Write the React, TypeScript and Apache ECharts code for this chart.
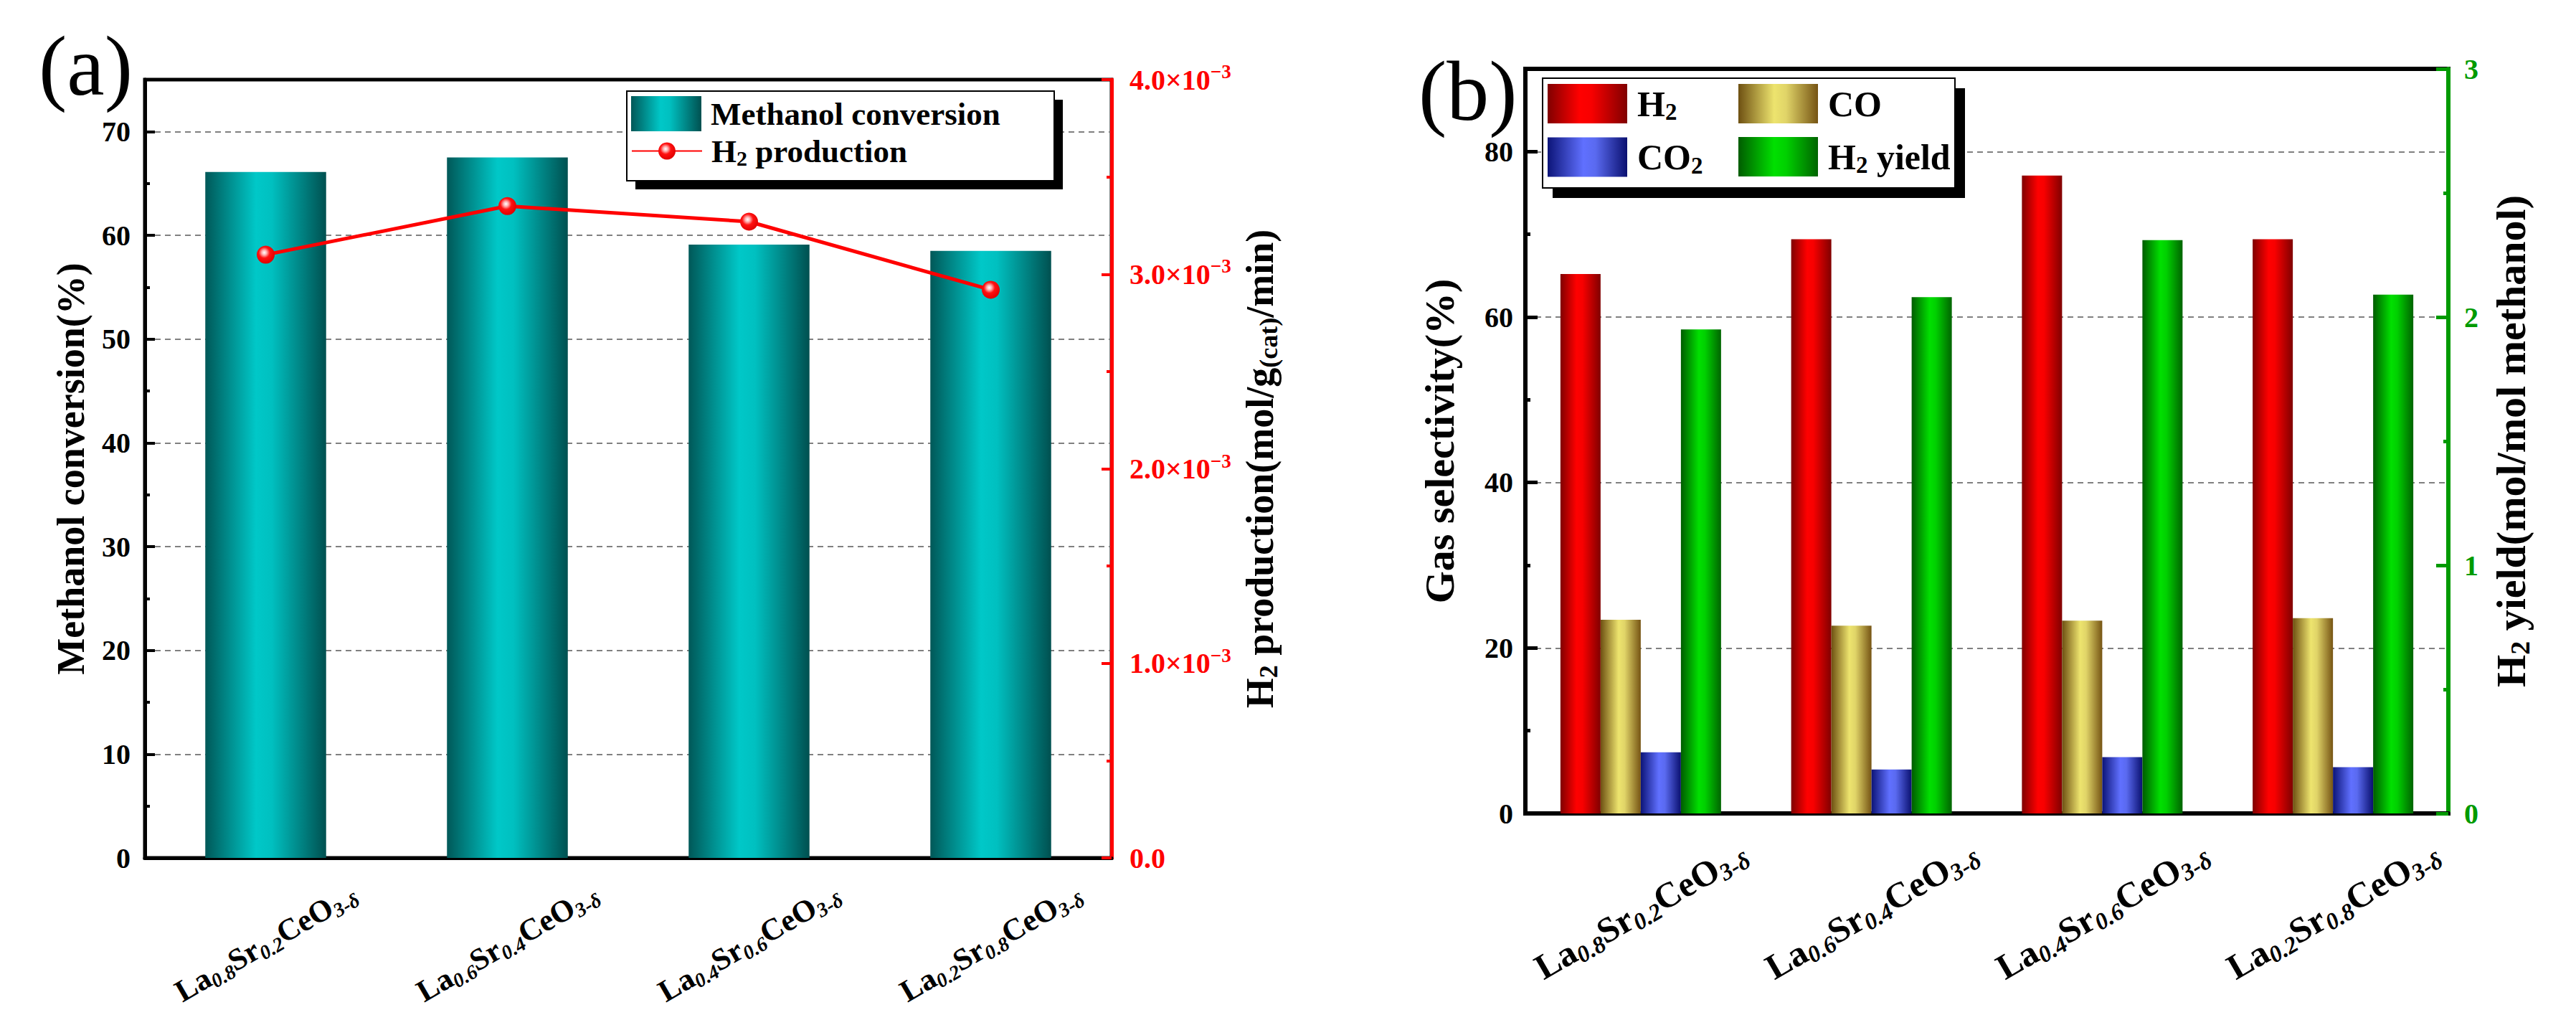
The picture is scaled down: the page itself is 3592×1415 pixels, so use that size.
import { useEffect, useRef } from "react";
import * as echarts from "echarts";

const SERIF = "Liberation Serif";

const samples = ["La0.8Sr0.2CeO3-δ", "La0.6Sr0.4CeO3-δ", "La0.4Sr0.6CeO3-δ", "La0.2Sr0.8CeO3-δ"];

// panel (a)
const methanolConversion = [66.1, 67.5, 59.1, 58.5];
const h2Production = [3.1e-3, 3.35e-3, 3.27e-3, 2.92e-3];

// panel (b)
const h2Selectivity = [65.2, 69.4, 77.1, 69.4];
const coSelectivity = [23.4, 22.7, 23.3, 23.6];
const co2Selectivity = [7.4, 5.3, 6.8, 5.6];
const h2Yield = [1.95, 2.08, 2.31, 2.09];

const hGrad = (stops: [number, string][]) => ({
  type: "linear",
  x: 0,
  y: 0,
  x2: 1,
  y2: 0,
  colorStops: stops.map(([offset, color]) => ({ offset, color })),
});

const teal = hGrad([[0, "#005858"], [0.42, "#00c8c8"], [0.55, "#00c0c0"], [1, "#005050"]]);
const red = hGrad([[0, "#800000"], [0.4, "#ff0000"], [0.55, "#f80000"], [1, "#800000"]]);
const olive = hGrad([[0, "#6e5012"], [0.45, "#ede46e"], [0.6, "#e0d468"], [1, "#765414"]]);
const blue = hGrad([[0, "#0c1478"], [0.45, "#6070ff"], [0.6, "#5a6af0"], [1, "#0a1070"]]);
const green = hGrad([[0, "#005c00"], [0.45, "#00e000"], [0.6, "#00d000"], [1, "#006400"]]);
const sphere = {
  type: "radial",
  x: 0.42,
  y: 0.38,
  r: 0.62,
  colorStops: [
    { offset: 0, color: "#ffffff" },
    { offset: 0.22, color: "#ffb0b0" },
    { offset: 0.5, color: "#ff1010" },
    { offset: 1, color: "#e00000" },
  ],
};

// chemistry text -> rich text with subscripts
const chem = (name: string) =>
  name
    .split(/(\d)/)
    .filter((t) => t !== "")
    .map((t) => (/^\d$/.test(t) ? `{s|${t}}` : `{b|${t}}`))
    .join("");

const formula = (s: string) => {
  const m = s.match(/^La([\d.]+)Sr([\d.]+)CeO(.+)$/);
  if (!m) return s;
  return `{m|La}{s|${m[1]}}{m|Sr}{s|${m[2]}}{m|CeO}{s|${m[3]}}`;
};

const formulaRich = (size: number) => ({
  m: { fontFamily: SERIF, fontWeight: "bold", fontSize: size, color: "#000" },
  s: {
    fontFamily: SERIF,
    fontWeight: "bold",
    fontStyle: "italic",
    fontSize: Math.round(size * 0.66),
    color: "#000",
    padding: [Math.round(size * 0.5), 0, 0, 0],
  },
});

const nameRich = (size: number) => ({
  b: { fontFamily: SERIF, fontWeight: "bold", fontSize: size, color: "#000" },
  s: {
    fontFamily: SERIF,
    fontWeight: "bold",
    fontSize: Math.round(size * 0.66),
    color: "#000",
    padding: [Math.round(size * 0.45), 0, 0, 0],
  },
});

const tickLabel = (color: string, margin: number) => ({
  fontFamily: SERIF,
  fontWeight: "bold",
  fontSize: 40,
  color,
  margin,
});

const dashed = { color: "#808080", width: 2, type: [8, 6] };

export default function App() {
  const chartRef = useRef<HTMLDivElement>(null);

  useEffect(() => {
    if (!chartRef.current) return;
    const chart = echarts.init(chartRef.current, undefined, { renderer: "svg" });

    const legendText = (size: number, pad: number) => ({
      fontFamily: SERIF,
      fontWeight: "bold",
      fontSize: size,
      color: "#000",
      padding: [0, 0, 0, pad],
      rich: nameRich(size),
    });

    const option: any = {
      animation: false,
      backgroundColor: "#ffffff",
      textStyle: { fontFamily: SERIF },
      grid: [
        { left: 202, top: 111, width: 1348, height: 1085, show: true, borderColor: "#000", borderWidth: 5, outerBoundsMode: "none" },
        { left: 2127, top: 96, width: 1287, height: 1038, show: true, borderColor: "#000", borderWidth: 6, outerBoundsMode: "none" },
      ],
      xAxis: [
        {
          gridIndex: 0,
          type: "category",
          data: samples,
          axisLine: { show: true, lineStyle: { color: "#000", width: 5 } },
          axisTick: { show: false },
          splitLine: { show: false },
          axisLabel: {
            interval: 0,
            rotate: 30,
            align: "center",
            verticalAlign: "middle",
            margin: 118,
            formatter: formula,
            rich: formulaRich(43),
          },
        },
        {
          gridIndex: 1,
          type: "category",
          data: samples,
          axisLine: { show: true, lineStyle: { color: "#000", width: 6 } },
          axisTick: { show: false },
          splitLine: { show: false },
          axisLabel: {
            interval: 0,
            rotate: 30,
            align: "center",
            verticalAlign: "middle",
            margin: 135,
            formatter: formula,
            rich: formulaRich(50),
          },
        },
      ],
      yAxis: [
        {
          gridIndex: 0,
          type: "value",
          position: "left",
          min: 0,
          max: 75,
          interval: 10,
          name: "Methanol conversion(%)",
          nameLocation: "middle",
          nameRotate: 90,
          nameGap: 76,
          nameMoveOverlap: false,
          nameTextStyle: { fontFamily: SERIF, fontWeight: "bold", fontSize: 54, color: "#000" },
          axisLine: { show: true, lineStyle: { color: "#000", width: 5 } },
          axisTick: { show: true, inside: true, length: 14, lineStyle: { color: "#000", width: 4 } },
          axisLabel: { ...tickLabel("#000", 20), showMaxLabel: false },
          splitLine: { show: true, showMinLine: false, showMaxLine: false, lineStyle: dashed },
        },
        {
          gridIndex: 0,
          type: "value",
          position: "right",
          min: 0,
          max: 0.004,
          interval: 0.001,
          name: "{b|H}{s|2}{b| production(mol/g}{s|(cat)}{b|/min)}",
          nameLocation: "middle",
          nameRotate: 90,
          nameGap: 177,
          nameMoveOverlap: false,
          nameTextStyle: { rich: nameRich(54) },
          axisLine: { show: true, lineStyle: { color: "#ff0000", width: 5 } },
          axisTick: { show: true, inside: true, length: 14, lineStyle: { color: "#ff0000", width: 4 } },
          minorTick: { show: true, splitNumber: 2, length: 7, lineStyle: { color: "#ff0000", width: 4 } },
          axisLabel: {
            margin: 25,
            formatter: (v: number) =>
              v === 0 ? "{n|0.0}" : `{n|${(v * 1000).toFixed(1)}×10}{e|−3}`,
            rich: {
              n: { fontFamily: SERIF, fontWeight: "bold", fontSize: 40, color: "#ff0000" },
              e: { fontFamily: SERIF, fontWeight: "bold", fontSize: 27, color: "#ff0000", padding: [0, 0, 22, 0] },
            },
          },
          splitLine: { show: false },
        },
        {
          // minor ticks of the left axis of (a)
          gridIndex: 0,
          type: "value",
          position: "left",
          min: 0,
          max: 75,
          interval: 5,
          axisLine: { show: false },
          axisTick: { show: true, inside: true, length: 7, lineStyle: { color: "#000", width: 4 } },
          axisLabel: { show: false },
          splitLine: { show: false },
        },
        {
          gridIndex: 1,
          type: "value",
          position: "left",
          min: 0,
          max: 90,
          interval: 20,
          name: "Gas selectivity(%)",
          nameLocation: "middle",
          nameRotate: 90,
          nameGap: 91,
          nameMoveOverlap: false,
          nameTextStyle: { fontFamily: SERIF, fontWeight: "bold", fontSize: 58, color: "#000" },
          axisLine: { show: true, lineStyle: { color: "#000", width: 6 } },
          axisTick: { show: true, inside: true, length: 17, lineStyle: { color: "#000", width: 5 } },
          axisLabel: { ...tickLabel("#000", 17), showMaxLabel: false },
          splitLine: { show: true, showMinLine: false, showMaxLine: false, lineStyle: dashed },
        },
        {
          gridIndex: 1,
          type: "value",
          position: "right",
          min: 0,
          max: 3,
          interval: 1,
          name: "{b|H}{s|2}{b| yield(mol/mol methanol)}",
          nameLocation: "middle",
          nameRotate: 90,
          nameGap: 55,
          nameMoveOverlap: false,
          nameTextStyle: { rich: nameRich(58) },
          axisLine: { show: true, lineStyle: { color: "#009a00", width: 6 } },
          axisTick: { show: true, inside: true, length: 17, lineStyle: { color: "#009a00", width: 5 } },
          minorTick: { show: true, splitNumber: 2, length: 7, lineStyle: { color: "#009a00", width: 5 } },
          axisLabel: tickLabel("#009a00", 22),
          splitLine: { show: false },
        },
        {
          // minor ticks of the left axis of (b)
          gridIndex: 1,
          type: "value",
          position: "left",
          min: 0,
          max: 90,
          interval: 10,
          axisLine: { show: false },
          axisTick: { show: true, inside: true, length: 7, lineStyle: { color: "#000", width: 5 } },
          axisLabel: { show: false },
          splitLine: { show: false },
        },
      ],
      legend: [
        {
          data: ["Methanol conversion"],
          left: 880,
          top: 134,
          padding: 0,
          itemWidth: 98,
          itemHeight: 49,
          icon: "rect",
          selectedMode: false,
          textStyle: legendText(45, 8),
        },
        {
          data: ["H2 production"],
          left: 880,
          top: 188,
          padding: 0,
          itemWidth: 98,
          itemHeight: 30,
          selectedMode: false,
          formatter: chem,
          textStyle: legendText(45, 8),
        },
        {
          data: ["H2", "CO2"],
          orient: "vertical",
          left: 2158,
          top: 117,
          padding: 0,
          itemWidth: 111,
          itemHeight: 55,
          itemGap: 19,
          icon: "rect",
          selectedMode: false,
          formatter: chem,
          textStyle: legendText(50, 9),
        },
        {
          data: ["CO", "H2 yield"],
          orient: "vertical",
          left: 2424,
          top: 117,
          padding: 0,
          itemWidth: 111,
          itemHeight: 55,
          itemGap: 19,
          icon: "rect",
          selectedMode: false,
          formatter: chem,
          textStyle: legendText(50, 9),
        },
      ],
      graphic: [
        { type: "text", x: 54, y: 92, z: 3, style: { text: "(a)", font: `118px "${SERIF}"`, fill: "#000", verticalAlign: "middle" } },
        { type: "text", x: 1978, y: 127, z: 3, style: { text: "(b)", font: `118px "${SERIF}"`, fill: "#000", verticalAlign: "middle" } },
        { type: "rect", z: 3, shape: { x: 886, y: 139, width: 596, height: 125 }, style: { fill: "#000" } },
        { type: "rect", z: 3, shape: { x: 874, y: 127, width: 596, height: 125 }, style: { fill: "#fff", stroke: "#000", lineWidth: 2 } },
        { type: "rect", z: 3, shape: { x: 2165, y: 123, width: 575, height: 153 }, style: { fill: "#000" } },
        { type: "rect", z: 3, shape: { x: 2151, y: 109, width: 575, height: 153 }, style: { fill: "#fff", stroke: "#000", lineWidth: 2 } },
      ],
      series: [
        {
          name: "Methanol conversion",
          type: "bar",
          xAxisIndex: 0,
          yAxisIndex: 0,
          data: methanolConversion,
          barWidth: "50%",
          itemStyle: { color: teal },
        },
        {
          name: "H2 production",
          type: "line",
          xAxisIndex: 0,
          yAxisIndex: 1,
          data: h2Production,
          symbol: "circle",
          symbolSize: 25,
          z: 5,
          lineStyle: { color: "#ff0000", width: 5 },
          itemStyle: { color: sphere },
        },
        {
          name: "H2",
          type: "bar",
          xAxisIndex: 1,
          yAxisIndex: 3,
          data: h2Selectivity,
          barWidth: 56,
          barGap: "0%",
          itemStyle: { color: red },
        },
        {
          name: "CO",
          type: "bar",
          xAxisIndex: 1,
          yAxisIndex: 3,
          data: coSelectivity,
          barWidth: 56,
          barGap: "0%",
          itemStyle: { color: olive },
        },
        {
          name: "CO2",
          type: "bar",
          xAxisIndex: 1,
          yAxisIndex: 3,
          data: co2Selectivity,
          barWidth: 56,
          barGap: "0%",
          itemStyle: { color: blue },
        },
        {
          name: "H2 yield",
          type: "bar",
          xAxisIndex: 1,
          yAxisIndex: 4,
          data: h2Yield,
          barWidth: 56,
          barGap: "0%",
          itemStyle: { color: green },
        },
      ],
    };

    chart.setOption(option);

    return () => {
      chart.dispose();
    };
  }, []);

  return (
    <div
      ref={chartRef}
      style={{ position: "absolute", left: 0, top: 0, width: "3592px", height: "1415px", background: "#fff" }}
    />
  );
}
